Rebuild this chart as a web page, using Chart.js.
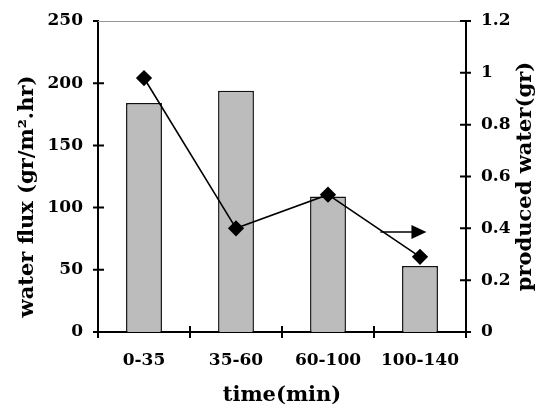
<!DOCTYPE html>
<html>
<head>
<meta charset="utf-8">
<script src="https://cdn.jsdelivr.net/npm/chart.js@4"></script>
<style>
  html, body { margin: 0; padding: 0; background: #fff; }
  #wrap { width: 547px; height: 412px; }
</style>
</head>
<body>
<div id="wrap"><canvas id="chart-flux"></canvas></div>
<script>
'use strict';

const categories = ['0-35', '35-60', '60-100', '100-140'];
const waterFlux = [184, 194, 109, 53];
const producedWater = [0.98, 0.40, 0.53, 0.29];
// arrow pointing to the right axis: [category index, produced water]
const arrowFrom = [2.57, 0.386];
const arrowTo = [3.07, 0.386];
const leftTitle = 'water flux (gr/m\u00B2.hr)';
const rightTitle = 'produced water(gr)';

const FONT = "'DejaVu Serif', serif";

function drawVerticalTitle(ctx, text, x, y) {
    ctx.save();
    ctx.translate(x, y);
    ctx.rotate(-Math.PI / 2);
    ctx.font = 'bold 21px ' + FONT;
    ctx.fillStyle = '#000';
    ctx.textAlign = 'center';
    ctx.textBaseline = 'middle';
    ctx.fillText(text, 0, 0);
    ctx.restore();
}

// ticks that cross the axis lines, the thin top border, the arrow and both y titles
const axisExtras = {
    id: 'axisExtras',
    afterDatasetsDraw(chart) {
        const { ctx, chartArea: a, scales } = chart;
        ctx.save();
        ctx.strokeStyle = '#999';
        ctx.lineWidth = 1;
        ctx.beginPath();
        ctx.moveTo(a.left, a.top + 0.5);
        ctx.lineTo(a.right, a.top + 0.5);
        ctx.stroke();

        ctx.strokeStyle = '#000';
        ctx.lineWidth = 2;
        ctx.beginPath();
        scales.y.ticks.forEach(t => {
            const py = scales.y.getPixelForValue(t.value);
            ctx.moveTo(a.left - 5, py);
            ctx.lineTo(t.value === 250 ? a.left : a.left + 6, py);
        });
        scales.y1.ticks.forEach(t => {
            const py = scales.y1.getPixelForValue(t.value);
            ctx.moveTo(a.right - 6, py);
            ctx.lineTo(a.right + 5, py);
        });
        for (let i = 0; i <= categories.length; i++) {
            const px = scales.x.getPixelForValue(i - 0.5);
            ctx.moveTo(px, a.bottom - 6);
            ctx.lineTo(px, a.bottom + 6);
        }
        ctx.stroke();

        const x0 = scales.x.getPixelForValue(arrowFrom[0]);
        const x1 = scales.x.getPixelForValue(arrowTo[0]);
        const ya = scales.y1.getPixelForValue(arrowFrom[1]);
        ctx.lineWidth = 1.5;
        ctx.beginPath();
        ctx.moveTo(x0, ya);
        ctx.lineTo(x1 - 14, ya);
        ctx.stroke();
        ctx.fillStyle = '#000';
        ctx.beginPath();
        ctx.moveTo(x1, ya);
        ctx.lineTo(x1 - 15, ya - 7);
        ctx.lineTo(x1 - 15, ya + 7);
        ctx.closePath();
        ctx.fill();
        ctx.restore();

        const mid = (a.top + a.bottom) / 2;
        drawVerticalTitle(ctx, leftTitle, 28, mid + 20);
        drawVerticalTitle(ctx, rightTitle, chart.width - 21, mid);
    }
};

const noPad = s => { s.paddingTop = 0; s.paddingBottom = 0; };

new Chart(document.getElementById('chart-flux').getContext('2d'), {
    data: {
        labels: categories,
        datasets: [{
            type: 'line',
            label: 'produced water',
            data: producedWater,
            yAxisID: 'y1',
            borderColor: '#000',
            borderWidth: 1.6,
            pointStyle: 'rectRot',
            pointRadius: 7,
            pointBackgroundColor: '#000',
            pointBorderColor: '#000',
            tension: 0,
            order: 1
        }, {
            type: 'bar',
            label: 'water flux',
            data: waterFlux,
            yAxisID: 'y',
            backgroundColor: '#bcbcbc',
            borderColor: '#111',
            borderWidth: 1.5,
            categoryPercentage: 1,
            barPercentage: 0.39,
            order: 2
        }]
    },
    options: {
        responsive: true,
        maintainAspectRatio: false,
        animation: false,
        layout: { padding: { top: 21, left: 0, right: 0, bottom: 0 } },
        plugins: { legend: { display: false }, tooltip: { enabled: false } },
        scales: {
            x: {
                grid: { display: false, drawTicks: false },
                border: { color: '#000', width: 2 },
                ticks: { color: '#000', padding: 18, font: { family: FONT, size: 17, weight: 'bold' } },
                title: {
                    display: true, text: 'time(min)', color: '#000',
                    padding: { top: 0, bottom: 4 },
                    font: { family: FONT, size: 21, weight: 'bold' }
                },
                afterFit: s => { s.height = 80; s.paddingLeft = 0; s.paddingRight = 0; }
            },
            y: {
                position: 'left',
                min: 0, max: 250,
                grid: { display: false, drawTicks: false },
                border: { color: '#000', width: 2 },
                ticks: { stepSize: 50, color: '#000', padding: 15, font: { family: FONT, size: 17, weight: 'bold' } },
                afterFit: s => { s.width = 98; noPad(s); }
            },
            y1: {
                position: 'right',
                min: 0, max: 1.2,
                grid: { display: false, drawTicks: false },
                border: { color: '#000', width: 2 },
                ticks: {
                    stepSize: 0.2, color: '#000', padding: 15,
                    font: { family: FONT, size: 17, weight: 'bold' },
                    callback: v => String(Number(v.toFixed(1)))
                },
                afterFit: s => { s.width = 81; noPad(s); }
            }
        }
    },
    plugins: [axisExtras]
});
</script>
</body>
</html>
